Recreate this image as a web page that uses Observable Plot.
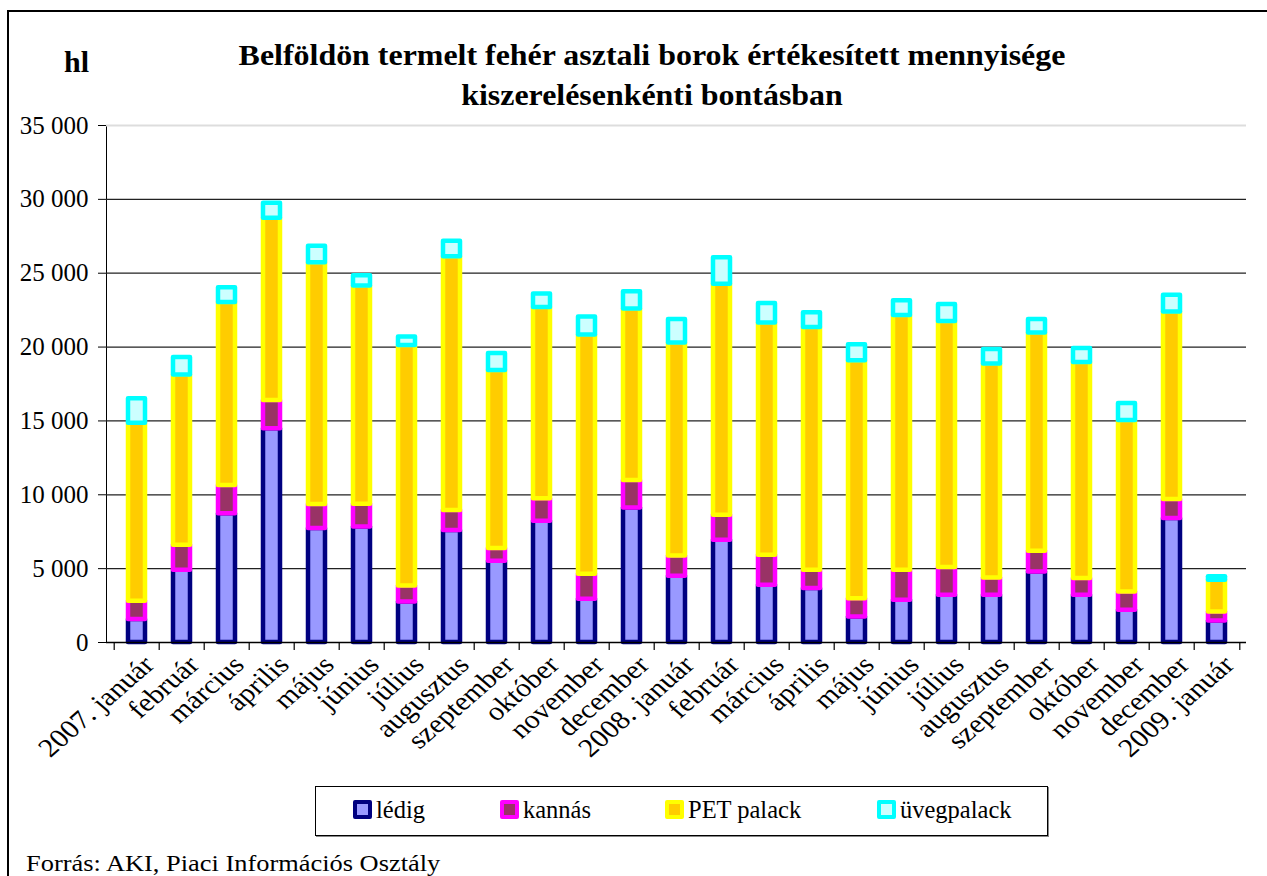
<!DOCTYPE html>
<html>
<head>
<meta charset="utf-8">
<script src="https://cdn.jsdelivr.net/npm/d3@7"></script>
<script src="https://cdn.jsdelivr.net/npm/@observablehq/plot@0.6"></script>
<style>
  html, body { margin: 0; padding: 0; background: #fff; }
  #wrap { position: relative; width: 1267px; height: 876px; overflow: hidden; font-family: "Liberation Serif", "Times New Roman", serif; color: #000; }
  #wrap svg { position: absolute; left: 0; top: 0; }
  .abs { position: absolute; white-space: nowrap; }
  #frame { left: 7px; top: 10px; width: 1400px; height: 1000px; border-left: 2px solid #000; border-top: 2px solid #000; pointer-events: none; }
  #hl { left: 64px; top: 47px; font-size: 30px; line-height: 30px; font-weight: bold; }
  #title { left: 0; width: 1304px; top: 36px; text-align: center; font-size: 28.5px; font-weight: bold; line-height: 40px; transform: scaleX(1.12); transform-origin: 652px 0; }
  #legend { left: 315px; top: 786px; width: 731px; height: 48px; border: 1px solid #000; box-shadow: 1px 1px 0 #888; background: #fff; }
  .item { position: absolute; top: 11px; font-size: 24.5px; line-height: 24.5px; }
  .sw { position: absolute; top: 13px; width: 19px; height: 19px; box-sizing: border-box; border: 4px solid; border-radius: 2px; }
  #source { left: 26px; top: 851px; font-size: 24px; line-height: 24px; transform: scaleX(1.1); transform-origin: 0 0; }
</style>
</head>
<body>
<div id="wrap"></div>
<script>
// Categories (month labels)
const labels = ["2007. január","február","március","április","május","június","július","augusztus","szeptember","október","november","december",
  "2008. január","február","március","április","május","június","július","augusztus","szeptember","október","november","december","2009. január"];

// Series values (hl)
const ledig  = [1550, 4890, 8720, 14470, 7710, 7820, 2750, 7590, 5500, 8200, 2930, 9100, 4480, 6920, 3880, 3650, 1730, 2860, 3200, 3200, 4770, 3200, 2180, 8390, 1460];
const kannas = [1240, 1690, 1910, 1910, 1640, 1540, 1080, 1350, 860, 1540, 1690, 1870, 1370, 1690, 2030, 1240, 1240, 2030, 1870, 1170, 1400, 1130, 1240, 1290, 610];
const pet    = [12060, 11530, 12380, 12340, 16360, 14780, 16280, 17180, 12060, 12940, 16200, 11600, 14420, 15650, 15720, 16430, 16110, 17240, 16660, 14480, 14780, 14630, 11610, 12700, 2140];
const uveg   = [1650, 1180, 1010, 1010, 1120, 680, 580, 1050, 1150, 910, 1220, 1180, 1590, 1790, 1320, 1010, 1080, 1010, 1150, 980, 910, 950, 1150, 1120, 240];

const seriesNames = ["lédig", "kannás", "PET palack", "üvegpalack"];
const seriesFill = ["#9999FF", "#993366", "#FFCC00", "#CCFFFF"];
const seriesStroke = ["#000080", "#FF00FF", "#FFFF00", "#00FFFF"];
const yTicks = [0, 5000, 10000, 15000, 20000, 25000, 30000, 35000];

const seriesValues = [ledig, kannas, pet, uveg];
const data = [];
labels.forEach((lab, i) => {
  seriesValues.forEach((vals, s) => {
    data.push({i, series: seriesNames[s], value: vals[i], fill: seriesFill[s], stroke: seriesStroke[s]});
  });
});

const fmt = d => d3.format(",")(d).replace(/,/g, " ");
const idx = d3.range(labels.length);

const chart = Plot.plot({
  width: 1267,
  height: 876,
  marginLeft: 106,
  marginRight: 21,
  marginTop: 125,
  marginBottom: 234,
  style: {fontFamily: "Liberation Serif, Times New Roman, serif", fontSize: "25px", color: "#000", background: "transparent"},
  x: {domain: idx, padding: 0, axis: null},
  y: {domain: [0, 35000], ticks: yTicks, tickSize: 8, tickPadding: 10, tickFormat: fmt, label: null, line: true},
  color: {type: "identity"},
  marks: [
    Plot.ruleY(yTicks.filter(d => d > 0 && d < 35000), {stroke: "#222", strokeWidth: 1.2}),
    Plot.ruleY([35000], {stroke: "#ddd", strokeWidth: 2}),
    Plot.barY(data, Plot.stackY({
      x: "i", y: "value", order: null,
      fill: "fill", stroke: "stroke", strokeWidth: 4.5, strokeLinejoin: "round",
      insetLeft: 14, insetRight: 14
    })),
    Plot.ruleY([0], {stroke: "#000", strokeWidth: 1.5}),
    Plot.ruleX(idx, {x: d => d, y1: 0, y2: -540, dx: -22.8, stroke: "#000", strokeWidth: 1.2}),
    Plot.ruleX([idx[idx.length - 1]], {x: d => d, y1: 0, y2: -540, dx: 22.8, stroke: "#000", strokeWidth: 1.2}),
    Plot.text(idx, {x: d => d, y: 0, text: i => labels[i], rotate: -45, textAnchor: "end", lineAnchor: "middle",
      dx: 12, dy: 18, fontSize: 26, fill: "#000"})
  ]
});

// Stretch the rotated category labels horizontally, as in the source image
chart.querySelectorAll("text").forEach(t => {
  const tr = t.getAttribute("transform");
  if (tr && tr.includes("rotate(-45)")) t.setAttribute("transform", tr.replace("rotate(-45)", "scale(1.15,1) rotate(-45)"));
});

const wrap = document.getElementById("wrap");
wrap.appendChild(chart);

function addDiv(id, cls, html) {
  const d = document.createElement("div");
  if (id) d.id = id;
  d.className = cls;
  d.innerHTML = html;
  wrap.appendChild(d);
  return d;
}
addDiv("frame", "abs", "");
addDiv("hl", "abs", "hl");
addDiv("title", "abs", "Belföldön termelt fehér asztali borok értékesített mennyisége<br>kiszerelésenkénti bontásban");
const legend = addDiv("legend", "abs", "");
const swX = [37, 184, 349, 561];
seriesNames.forEach((name, s) => {
  const sw = document.createElement("div");
  sw.className = "sw";
  sw.style.left = swX[s] + "px";
  sw.style.background = seriesFill[s];
  sw.style.borderColor = seriesStroke[s];
  legend.appendChild(sw);
  const t = document.createElement("div");
  t.className = "item";
  t.style.left = (swX[s] + 23) + "px";
  t.textContent = name;
  legend.appendChild(t);
});
addDiv("source", "abs", "Forrás: AKI, Piaci Információs Osztály");
</script>
</body>
</html>
